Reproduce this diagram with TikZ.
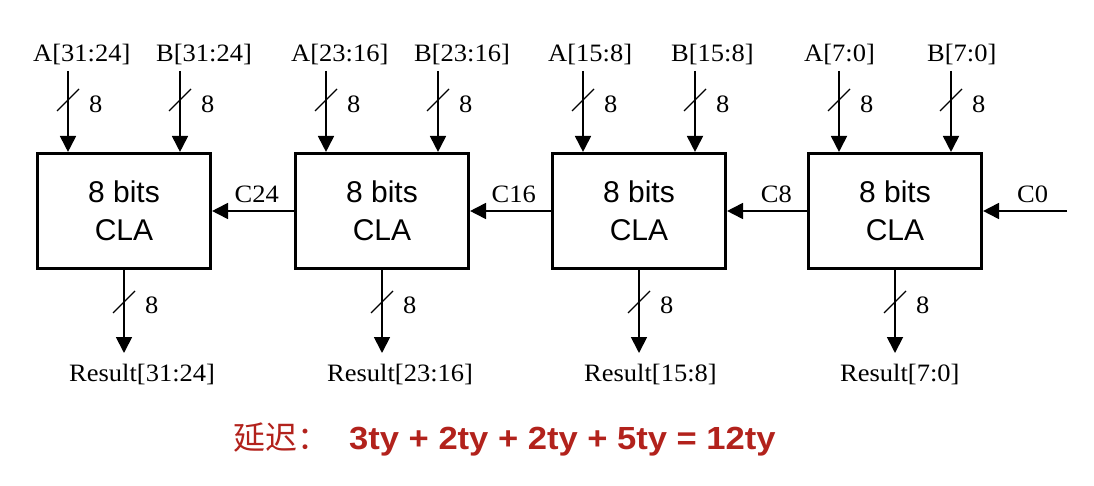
\documentclass[tikz,border=0pt]{standalone}
\usepackage{fontspec}
\setmainfont[FakeStretch=1.06]{Liberation Serif}
\setsansfont{Liberation Sans}
\newfontfamily\cjk{Noto Sans CJK SC}
\newfontfamily\delayfont[FakeStretch=1.08]{Liberation Sans}
\usetikzlibrary{arrows.meta,positioning}
\definecolor{delayred}{RGB}{178,34,28}

\begin{document}
\begin{tikzpicture}[x=1pt,y=-1pt,
  cla/.style={draw, line width=2.6pt, minimum width=173.5pt, minimum height=115.5pt,
    inner sep=0pt, align=center, font=\sffamily\fontsize{30}{38}\selectfont},
  lbl/.style={inner sep=0pt, font=\fontsize{25}{28}\selectfont},
  bus/.style={line width=1.8pt, -{Triangle[length=16pt,width=16pt]}},
  slash/.style={line width=1.2pt}]
	\useasboundingbox (0,0) rectangle (1094,486);
	\foreach \i/\x/\hi/\lo in {1/124/31/24, 2/382/23/16, 3/639/15/8, 4/895/7/0}{
		\node[cla] (cla\i) at (\x,211) {\raisebox{-3pt}{8 bits}\\\raisebox{-3pt}{CLA}};
		% operands
		\node[lbl, anchor=base west] (a\i) at (\x-91,62) {A[\hi:\lo]};
		\node[lbl, anchor=base west] (b\i) at (\x+32,62) {B[\hi:\lo]};
		\coordinate (ta\i) at (\x-56,71);
		\coordinate (tb\i) at (\x+56,71);
		\draw[bus] (ta\i) -- (ta\i |- cla\i.north);
		\draw[bus] (tb\i) -- (tb\i |- cla\i.north);
		\draw[slash] (\x-56,100) +(-11,11) -- +(11,-11);
		\draw[slash] (\x+56,100) +(-11,11) -- +(11,-11);
		\node[lbl, anchor=base west] (na\i) at (\x-35,113) {8};
		\node[lbl, anchor=base west] (nb\i) at (\x+77,113) {8};
		% result
		\coordinate (tr\i) at (\x,353);
		\draw[bus] (cla\i.south) -- (tr\i);
		\draw[slash] (\x,302) +(-11,11) -- +(11,-11);
		\node[lbl, anchor=base west] (nr\i) at (\x+21,313) {8};
		\node[lbl, anchor=base west] (r\i) at (\x-55,381) {Result[\hi:\lo]};
	}
	% carry chain
	\coordinate (c0in) at (1067,211);
	\draw[bus] (c0in) -- (cla4.east);
	\draw[bus] (cla4.west) -- (cla3.east);
	\draw[bus] (cla3.west) -- (cla2.east);
	\draw[bus] (cla2.west) -- (cla1.east);
	\node[lbl, anchor=base west] (c0) at (1017,203) {C0};
	\node[lbl, anchor=base east] (c8) at (792,203) {C8};
	\node[lbl, anchor=base east] (c16) at (536,203) {C16};
	\node[lbl, anchor=base east] (c24) at (279,203) {C24};
	\node[anchor=base west, inner sep=0pt, text=delayred] (delay) at (233,449)
		{{\cjk\fontsize{32}{34}\selectfont 延迟：}\hspace{20pt}{\delayfont\bfseries\fontsize{32}{36}\selectfont 3ty + 2ty + 2ty + 5ty = 12ty}};
\end{tikzpicture}
\end{document}
